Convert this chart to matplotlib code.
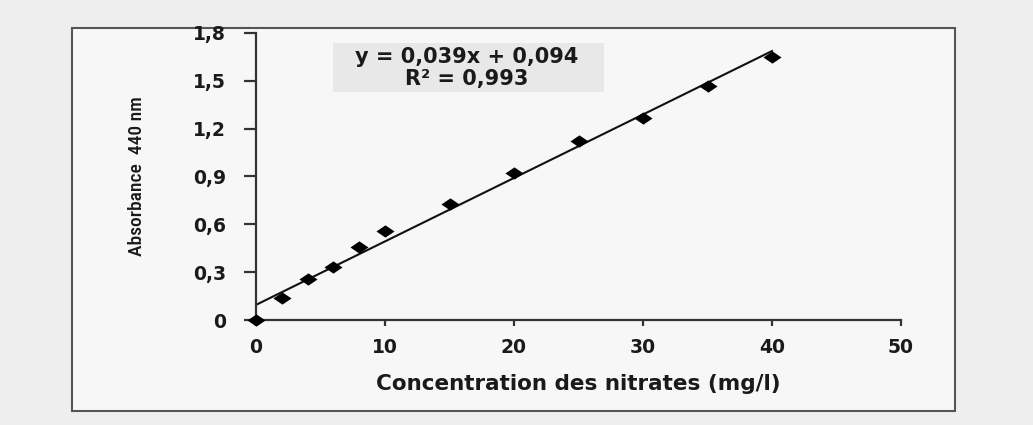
import numpy as np
from matplotlib import pyplot as plt
from matplotlib.patches import Rectangle

# data
concentration = [0, 2, 4, 6, 8, 10, 15, 20, 25, 30, 35, 40]
absorbance = [0, 0.14, 0.255, 0.335, 0.455, 0.56, 0.73, 0.92, 1.12, 1.27, 1.465, 1.65]
x_ticks = [0, 10, 20, 30, 40, 50]
y_ticks = [0, 0.3, 0.6, 0.9, 1.2, 1.5, 1.8]
y_tick_labels = ['0', '0,3', '0,6', '0,9', '1,2', '1,5', '1,8']
equation_text = 'y = 0,039x + 0,094\nR² = 0,993'

# flat, wide diamond (the source picture is stretched sideways)
wide_diamond = [(-1, 0), (0, 0.68), (1, 0), (0, -0.68), (-1, 0)]


def main():
  fig = plt.figure(figsize=(10.33, 4.25), dpi=100)
  fig.patch.set_facecolor('#eeeeee')

  # outer frame of the chart area
  frame = Rectangle((72 / 1033, 1 - 411 / 425), (955 - 72) / 1033, (411 - 28) / 425,
                    transform=fig.transFigure, facecolor='#f7f7f7', edgecolor='#555555',
                    linewidth=1.5, zorder=-1)
  fig.add_artist(frame)

  ax = fig.add_axes([256 / 1033, 1 - 320 / 425, (901 - 256) / 1033, (320 - 33) / 425])
  ax.set_facecolor('none')
  ax.set_zorder(1)

  slope, intercept = np.polyfit(concentration, absorbance, 1)
  xs = np.array([0, max(concentration)])
  ax.plot(xs, slope * xs + intercept, color='#111111', linewidth=1.5, zorder=2)
  ax.plot(concentration, absorbance, linestyle='None', marker=wide_diamond, markersize=13,
          color='black', markeredgewidth=0, zorder=3, clip_on=False)

  ax.set_xlim(0, 50)
  ax.set_ylim(0, 1.8)
  ax.set_xticks(x_ticks)
  ax.set_yticks(y_ticks)
  ax.set_yticklabels(y_tick_labels)

  for side in ['top', 'right']:
    ax.spines[side].set_visible(False)
  for side in ['left', 'bottom']:
    ax.spines[side].set_color('#333333')
    ax.spines[side].set_linewidth(1.6)
  ax.tick_params(axis='x', direction='out', length=4, width=1.6, color='#333333',
                 labelsize=13.5, pad=9)
  ax.tick_params(axis='y', direction='out', length=8.5, width=1.6, color='#333333',
                 labelsize=13.5, pad=13)
  for lbl in ax.get_xticklabels() + ax.get_yticklabels():
    lbl.set_fontfamily('DejaVu Sans')
    lbl.set_fontweight('bold')
    lbl.set_color('#1a1a1a')

  ax.set_xlabel('Concentration des nitrates (mg/l)', fontsize=15.5, fontweight='bold',
                family='DejaVu Sans', color='#1a1a1a', labelpad=12)
  ax.set_ylabel('Absorbance  440 nm', fontsize=14, fontweight='medium',
                family=['Liberation Sans Narrow', 'DejaVu Sans Condensed', 'Roboto Condensed',
                        'DejaVu Sans'],
                color='#1a1a1a', labelpad=34)

  # equation box
  ax.add_patch(Rectangle((6, 1.43), 21, 0.31, facecolor='#e8e8e8', edgecolor='none', zorder=1))
  ax.text(16.3, 1.58, equation_text, ha='center', va='center', fontsize=15,
          fontweight='bold', family='DejaVu Sans', color='#1a1a1a', linespacing=1.15, zorder=2)

  fig.savefig('out.png', dpi=100, facecolor=fig.get_facecolor())
  plt.close(fig)


if __name__ == '__main__':
  main()
